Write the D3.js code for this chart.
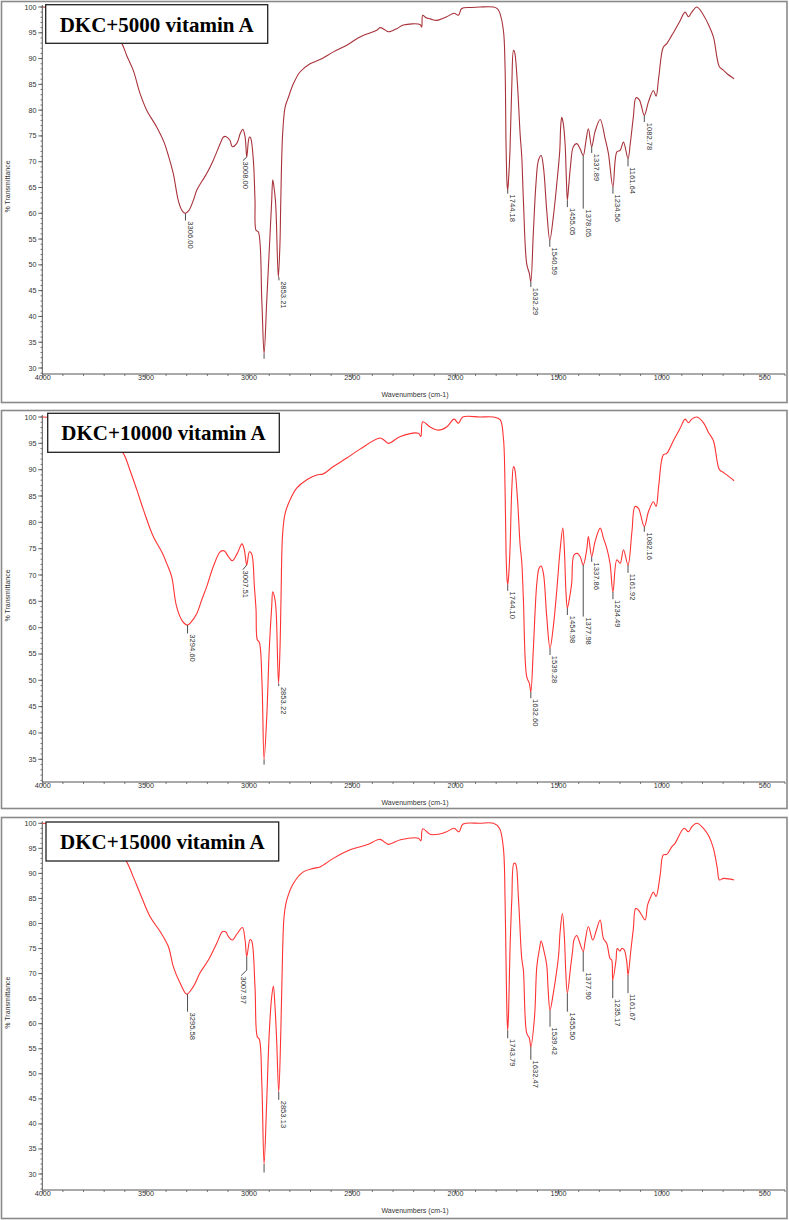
<!DOCTYPE html>
<html><head><meta charset="utf-8">
<script src="https://cdn.jsdelivr.net/npm/d3@7"></script>
<style>body{margin:0;background:#fff}svg{display:block}</style>
</head><body>
<svg id="chart" width="789" height="1220"></svg>
<script>
// ---------------- DATA ----------------
const titles = ["DKC+5000 vitamin A", "DKC+10000 vitamin A", "DKC+15000 vitamin A"];
const xTickLabels = [4000, 3500, 3000, 2500, 2000, 1500, 1000, 500];
const xLabel = "Wavenumbers (cm-1)";
const yLabel = "% Transmittance";

const spec5000 = [[4000,100],[3960,99.9],[3900,99.4],[3850,98.9],[3780,97.8],[3720,96.6],[3670,95.2],[3640,94.2],[3614,92.9],[3591,90.6],[3559,87.7],[3526,83.2],[3494,80.0],[3445,76.7],[3410,73.8],[3389,71.2],[3365,67.7],[3341,62.5],[3325,60.7],[3308,60.0],[3290,60.5],[3268,62.5],[3251,64.5],[3225,66.3],[3203,67.7],[3171,70.3],[3138,73.5],[3122,74.8],[3110,74.9],[3090,74.1],[3079,72.9],[3058,73.5],[3040,75.5],[3028,76.3],[3017,74.8],[3009,70.9],[3001,74.0],[2996,74.8],[2990,74.6],[2977,70.3],[2969,62.5],[2964,56.7],[2953,56.4],[2936,43.1],[2925,32.8],[2912,43.1],[2896,56.0],[2888,62.5],[2883,66.5],[2877,65.1],[2870,62.5],[2866,59.3],[2856,47.6],[2848,54.1],[2844,62.5],[2835,75.4],[2823,80.6],[2807,82.5],[2783,85.1],[2751,87.4],[2702,89.0],[2654,89.8],[2589,91.3],[2524,92.6],[2460,94.2],[2379,95.5],[2363,96.0],[2340,95.6],[2322,95.2],[2282,95.8],[2250,96.5],[2169,96.6],[2161,96.1],[2156,98.4],[2140,97.9],[2120,97.7],[2088,97.4],[2040,98.1],[2004,98.8],[1983,98.4],[1967,99.7],[1920,99.9],[1878,100],[1813,100],[1795,99.7],[1784,99.0],[1765,95.5],[1757,88.4],[1752,73.0],[1747,65.5],[1744,64.5],[1740,66.5],[1733,72.2],[1724,85.1],[1716,91.6],[1711,91.3],[1697,85.1],[1684,75.4],[1676,71.0],[1668,62.5],[1652,50.2],[1639,48.3],[1632,46.7],[1620,56.1],[1607,65.8],[1595,70.3],[1582,71.2],[1571,69.0],[1555,60.6],[1540,54.8],[1523,59.3],[1506,65.8],[1492,72.0],[1487,77.0],[1482,78.6],[1475,77.5],[1466,73.5],[1460,67.0],[1455,62.5],[1448,65.5],[1440,69.0],[1426,72.9],[1409,73.5],[1393,72.5],[1378,71.2],[1365,74.0],[1353,76.4],[1337,72.9],[1321,75.8],[1296,78.2],[1272,74.5],[1256,71.6],[1234,65.1],[1215,71.9],[1199,72.2],[1183,73.8],[1161,70.6],[1150,73.5],[1135,78.7],[1122,82.4],[1106,82.0],[1082,79.0],[1062,81.6],[1038,83.8],[1025,82.7],[1012,86.4],[990,92.2],[973,92.9],[949,94.5],[941,95.0],[909,97.3],[884,99.0],[868,98.1],[852,99.0],[827,100],[795,98.4],[770,96.5],[747,94.2],[718,88.4],[700,87.8],[682,87.1],[647,86.1]];

const spec10000 = [[4000,100],[3960,99.9],[3900,99.4],[3850,98.9],[3780,97.8],[3720,96.6],[3670,95.3],[3640,94.5],[3607,93.1],[3575,89.9],[3542,86.2],[3510,82.4],[3462,77.3],[3420,74.3],[3397,72.2],[3373,69.7],[3349,64.0],[3320,61.2],[3296,60.5],[3280,61.0],[3251,62.7],[3227,65.3],[3203,67.8],[3171,71.6],[3138,74.4],[3119,74.6],[3098,73.5],[3079,72.7],[3055,74.1],[3032,75.9],[3021,74.8],[3009,71.9],[2996,74.4],[2985,74.0],[2972,67.8],[2964,63.4],[2958,57.7],[2948,57.2],[2935,49.4],[2925,35.0],[2912,43.1],[2900,55.8],[2888,64.0],[2883,66.8],[2872,65.3],[2866,62.7],[2855,49.4],[2848,55.8],[2843,65.3],[2835,77.9],[2823,81.7],[2799,84.3],[2767,86.5],[2718,88.1],[2670,89.0],[2638,89.2],[2589,90.6],[2524,92.2],[2460,93.9],[2363,96.0],[2340,95.5],[2322,95.0],[2264,96.3],[2177,96.9],[2165,96.3],[2156,99.1],[2120,98.1],[2080,97.5],[2040,98.1],[2004,99.6],[1983,98.8],[1962,100],[1878,100],[1813,100],[1781,99.5],[1765,96.0],[1757,86.5],[1752,74.0],[1747,69.0],[1744,68.2],[1740,69.5],[1733,74.8],[1724,86.5],[1716,90.6],[1711,90.3],[1697,84.6],[1684,75.7],[1676,72.5],[1668,65.3],[1652,50.7],[1639,49.4],[1632,47.8],[1620,55.8],[1603,68.4],[1592,71.3],[1582,71.7],[1571,70.3],[1555,62.1],[1539,56.1],[1523,60.2],[1506,67.2],[1490,74.8],[1477,78.9],[1469,74.4],[1462,67.0],[1455,63.7],[1445,65.5],[1434,68.4],[1423,73.8],[1407,74.1],[1393,73.5],[1378,71.9],[1361,74.8],[1353,77.3],[1337,73.5],[1321,76.3],[1296,78.9],[1280,77.0],[1264,75.1],[1248,72.2],[1234,66.8],[1215,72.9],[1199,72.2],[1183,74.8],[1161,71.9],[1142,78.2],[1127,83.0],[1111,82.7],[1082,79.2],[1062,82.0],[1038,83.9],[1025,83.0],[1012,87.0],[990,92.8],[973,93.1],[941,95.5],[909,97.8],[884,99.6],[868,98.9],[852,99.6],[827,100],[795,98.9],[770,97.0],[747,95.5],[718,90.0],[700,89.5],[682,89.0],[647,87.9]];

const spec15000 = [[4000,100],[3960,99.9],[3900,99.4],[3850,98.9],[3780,97.8],[3720,96.6],[3670,95.2],[3630,94.0],[3594,92.5],[3559,89.3],[3526,86.0],[3478,81.4],[3429,78.4],[3389,75.4],[3365,71.4],[3332,68.1],[3300,65.9],[3268,67.4],[3236,70.1],[3195,72.7],[3155,76.0],[3126,78.4],[3110,78.3],[3098,77.4],[3079,76.7],[3055,78.0],[3030,79.2],[3017,76.7],[3009,73.4],[2993,76.8],[2985,76.5],[2969,67.4],[2958,57.4],[2948,56.9],[2936,48.1],[2925,32.0],[2912,44.8],[2900,58.1],[2888,65.4],[2880,67.5],[2872,63.4],[2864,56.7],[2854,46.4],[2844,58.1],[2835,74.7],[2828,81.4],[2815,84.7],[2783,88.0],[2735,90.3],[2686,91.0],[2654,91.3],[2589,93.0],[2508,94.7],[2427,95.7],[2363,96.8],[2340,96.2],[2322,95.8],[2264,96.7],[2177,97.0],[2165,96.5],[2156,98.9],[2120,97.8],[2080,97.8],[2040,98.3],[2004,99.0],[1980,98.3],[1962,99.8],[1878,100],[1813,100],[1784,99.0],[1765,95.0],[1757,85.0],[1752,71.7],[1747,61.0],[1744,58.7],[1740,62.0],[1733,74.7],[1724,85.0],[1714,92.0],[1706,91.9],[1692,85.0],[1676,73.0],[1668,70.7],[1652,58.1],[1639,57.1],[1632,55.4],[1614,61.4],[1603,71.4],[1590,75.0],[1582,76.5],[1571,75.0],[1555,71.7],[1548,66.7],[1539,62.7],[1523,66.1],[1498,73.4],[1490,78.4],[1479,82.0],[1469,77.0],[1463,70.7],[1455,66.1],[1439,71.4],[1429,74.7],[1423,76.7],[1409,77.6],[1397,76.4],[1378,74.4],[1369,76.4],[1353,79.4],[1332,76.7],[1314,78.7],[1296,80.7],[1280,77.0],[1264,76.0],[1248,73.0],[1240,72.7],[1235,68.7],[1219,72.7],[1213,75.0],[1200,74.5],[1191,75.0],[1180,74.8],[1167,72.4],[1161,69.7],[1147,74.7],[1135,79.0],[1124,83.0],[1111,82.7],[1095,81.7],[1078,80.7],[1066,83.7],[1050,85.4],[1038,86.3],[1025,85.4],[1005,89.7],[990,93.7],[973,93.8],[949,95.3],[933,96.0],[889,99.0],[868,98.3],[852,99.3],[827,100],[795,99.0],[770,97.5],[747,95.0],[728,91.0],[718,88.7],[698,89.0],[647,88.7]];

// peak labels: wn, tip (%T at curve), end (%T at bottom of leader), optional bent leader (lead wn, textT)
const peaks5000 = [
  {t:"3306.00", wn:3306, tip:60.0, end:58.6},
  {t:"3008.00", wn:3009, tip:70.9, end:70.9, lead:3028, textT:70.2},
  {t:"", wn:2925, tip:32.8, end:31.8},
  {t:"2853.21", wn:2853, tip:47.6, end:47.0},
  {t:"1744.18", wn:1744, tip:64.5, end:63.8},
  {t:"1632.29", wn:1632, tip:46.7, end:45.7},
  {t:"1540.59", wn:1540, tip:54.8, end:53.5},
  {t:"1455.05", wn:1455, tip:62.5, end:61.2},
  {t:"1378.05", wn:1378, tip:71.2, end:60.9},
  {t:"1337.89", wn:1337, tip:72.9, end:71.7},
  {t:"1234.56", wn:1234, tip:65.1, end:63.8},
  {t:"1161.64", wn:1161, tip:70.6, end:69.1},
  {t:"1082.78", wn:1082, tip:79.0, end:77.7}
];
const peaks10000 = [
  {t:"3294.60", wn:3296, tip:60.5, end:58.9},
  {t:"3007.51", wn:3009, tip:71.9, end:71.9, lead:3028, textT:71.0},
  {t:"", wn:2925, tip:35.0, end:34.0},
  {t:"2853.22", wn:2854, tip:49.4, end:48.9},
  {t:"1744.10", wn:1744, tip:68.2, end:67.0},
  {t:"1632.60", wn:1632, tip:47.8, end:46.6},
  {t:"1539.28", wn:1539, tip:56.1, end:54.8},
  {t:"1454.98", wn:1455, tip:63.7, end:62.4},
  {t:"1377.98", wn:1378, tip:71.9, end:62.1},
  {t:"1337.86", wn:1337, tip:73.5, end:72.5},
  {t:"1234.49", wn:1234, tip:66.8, end:65.4},
  {t:"1161.92", wn:1161, tip:71.9, end:70.4},
  {t:"1082.16", wn:1082, tip:79.2, end:78.2}
];
const peaks15000 = [
  {t:"3295.58", wn:3296, tip:65.9, end:62.4},
  {t:"3007.97", wn:3009, tip:73.4, end:70.7, lead:3036, textT:69.6},
  {t:"", wn:2925, tip:32.0, end:30.3},
  {t:"2853.13", wn:2854, tip:46.4, end:44.8},
  {t:"1743.79", wn:1744, tip:58.7, end:57.1},
  {t:"1632.47", wn:1632, tip:55.4, end:52.8},
  {t:"1539.42", wn:1539, tip:62.7, end:59.4},
  {t:"1455.50", wn:1455, tip:66.1, end:62.4},
  {t:"1377.90", wn:1378, tip:74.4, end:70.4},
  {t:"1235.17", wn:1235, tip:68.7, end:65.1},
  {t:"1161.67", wn:1161, tip:69.7, end:66.1}
];

const spectra = [spec5000, spec10000, spec15000];
const peakSets = [peaks5000, peaks10000, peaks15000];
const lineColors = ["#a8323a", "#ff3333", "#ff3333"];

// ---------------- LAYOUT ----------------
const layouts = [
  {fy:1, fh:401, yDom:[30,100], yRng:[368,7],     axisY:374,  box:[45.7,4.7,222,38.6]},
  {fy:410, fh:398, yDom:[35,100], yRng:[759.3,417], axisY:782,  box:[47.7,413.3,231.6,39]},
  {fy:817, fh:401, yDom:[30,100], yRng:[1174,823.3], axisY:1190, box:[46,822,232.7,39]}
];
const xLeft = 42.3, xRight = 785;
const x = d3.scaleLinear().domain([4000, 400]).range([xLeft, xRight]);

const svg = d3.select("#chart");
const AX = "#555", TXT = "#333";
const sans = "Arial, 'Liberation Sans', sans-serif";

layouts.forEach((L, i) => {
  const g = svg.append("g");
  const y = d3.scaleLinear().domain(L.yDom).range(L.yRng);
  const plotTop = y(100) - 2;

  // frame
  g.append("rect").attr("x", 1.5).attr("y", L.fy + 0.5).attr("width", 785.5).attr("height", L.fh)
    .attr("fill", "#fff").attr("stroke", "#8a8a8a").attr("stroke-width", 1.6);

  // clip
  const cid = "clip" + i;
  svg.append("clipPath").attr("id", cid).append("rect")
    .attr("x", xLeft).attr("y", plotTop).attr("width", xRight - xLeft).attr("height", L.axisY - plotTop);

  // y axis
  const yMinVal = y.invert(L.axisY);
  const yMinor = d3.range(Math.ceil(yMinVal), 101, 1);
  const yMajor = yMinor.filter(v => v % 5 === 0);
  g.append("line").attr("x1", xLeft).attr("x2", xLeft).attr("y1", plotTop).attr("y2", L.axisY)
    .attr("stroke", AX).attr("stroke-width", 1);
  g.selectAll(".ymn").data(yMinor).enter().append("line")
    .attr("x1", xLeft - 1.8).attr("x2", xLeft).attr("y1", d => y(d)).attr("y2", d => y(d))
    .attr("stroke", AX).attr("stroke-width", 0.8);
  g.selectAll(".ymj").data(yMajor).enter().append("line")
    .attr("x1", xLeft - 4).attr("x2", xLeft).attr("y1", d => y(d)).attr("y2", d => y(d))
    .attr("stroke", AX).attr("stroke-width", 0.9);
  g.selectAll(".ytl").data(yMajor).enter().append("text")
    .attr("x", 36.5).attr("y", d => y(d)).attr("dy", "0.35em")
    .attr("text-anchor", "end").attr("font-family", sans).attr("font-size", 7.2)
    .attr("fill", TXT).text(d => d);
  g.append("text")
    .attr("transform", `translate(9.5,${(plotTop + L.axisY) / 2 - 3}) rotate(-90)`)
    .attr("text-anchor", "middle").attr("font-family", sans).attr("font-size", 7)
    .attr("fill", TXT).text(yLabel);

  // x axis
  const xAxis = d3.axisBottom(x).tickValues(xTickLabels).tickSize(3.5).tickFormat(d3.format("d"));
  const xa = g.append("g").attr("transform", `translate(0,${L.axisY})`).call(xAxis);
  xa.select(".domain").attr("stroke", AX).attr("d", `M${xLeft},0H${xRight}`);
  xa.selectAll(".tick line").attr("stroke", AX);
  xa.selectAll(".tick text").attr("font-family", sans).attr("font-size", 7.2).attr("fill", TXT).attr("dy", "0.55em").attr("y", 2.5);
  const xMinor = d3.range(4000, 399, -100).filter(v => v % 500 !== 0);
  g.selectAll(".xmn").data(xMinor).enter().append("line")
    .attr("x1", d => x(d)).attr("x2", d => x(d)).attr("y1", L.axisY).attr("y2", L.axisY + 2)
    .attr("stroke", AX).attr("stroke-width", 0.8);
  g.append("text").attr("x", 381.5).attr("y", L.axisY + 22.5)
    .attr("font-family", sans).attr("font-size", 7).attr("fill", TXT).text(xLabel);

  // spectrum
  const line = d3.line().x(d => x(d[0])).y(d => y(d[1])).curve(d3.curveCatmullRom.alpha(0.5));
  g.append("path").datum(spectra[i]).attr("clip-path", `url(#${cid})`)
    .attr("d", line).attr("fill", "none").attr("stroke", lineColors[i]).attr("stroke-width", 1.1);

  // peak labels
  const pg = g.append("g").attr("clip-path", `url(#${cid})`);
  peakSets[i].forEach(p => {
    const px = x(p.wn);
    let pts = [[px, y(p.tip)], [px, y(p.end)]];
    let ax = px + 2.3, ay = y(p.end) + 0.8;
    if (p.lead !== undefined) {
      pts.push([x(p.lead), y(p.textT)]);
      ax = x(p.lead); ay = y(p.textT) + 0.8;
    }
    pg.append("path").attr("d", d3.line()(pts)).attr("fill", "none")
      .attr("stroke", "#3a3a3a").attr("stroke-width", 0.9);
    if (p.t) {
      pg.append("text").attr("transform", `translate(${ax},${ay}) rotate(90)`)
        .attr("font-family", sans).attr("font-size", 7.6).attr("fill", TXT).text(p.t);
    }
  });

  // title box
  const b = L.box;
  g.append("rect").attr("x", b[0]).attr("y", b[1]).attr("width", b[2]).attr("height", b[3])
    .attr("fill", "#fff").attr("stroke", "#222").attr("stroke-width", 1.3);
  g.append("text").attr("x", b[0] + b[2] / 2).attr("y", b[1] + 26.8)
    .attr("text-anchor", "middle").attr("font-family", "'Liberation Serif', 'Times New Roman', serif")
    .attr("font-weight", "bold").attr("font-size", 21).attr("fill", "#000").text(titles[i]);
});
</script>
</body></html>
